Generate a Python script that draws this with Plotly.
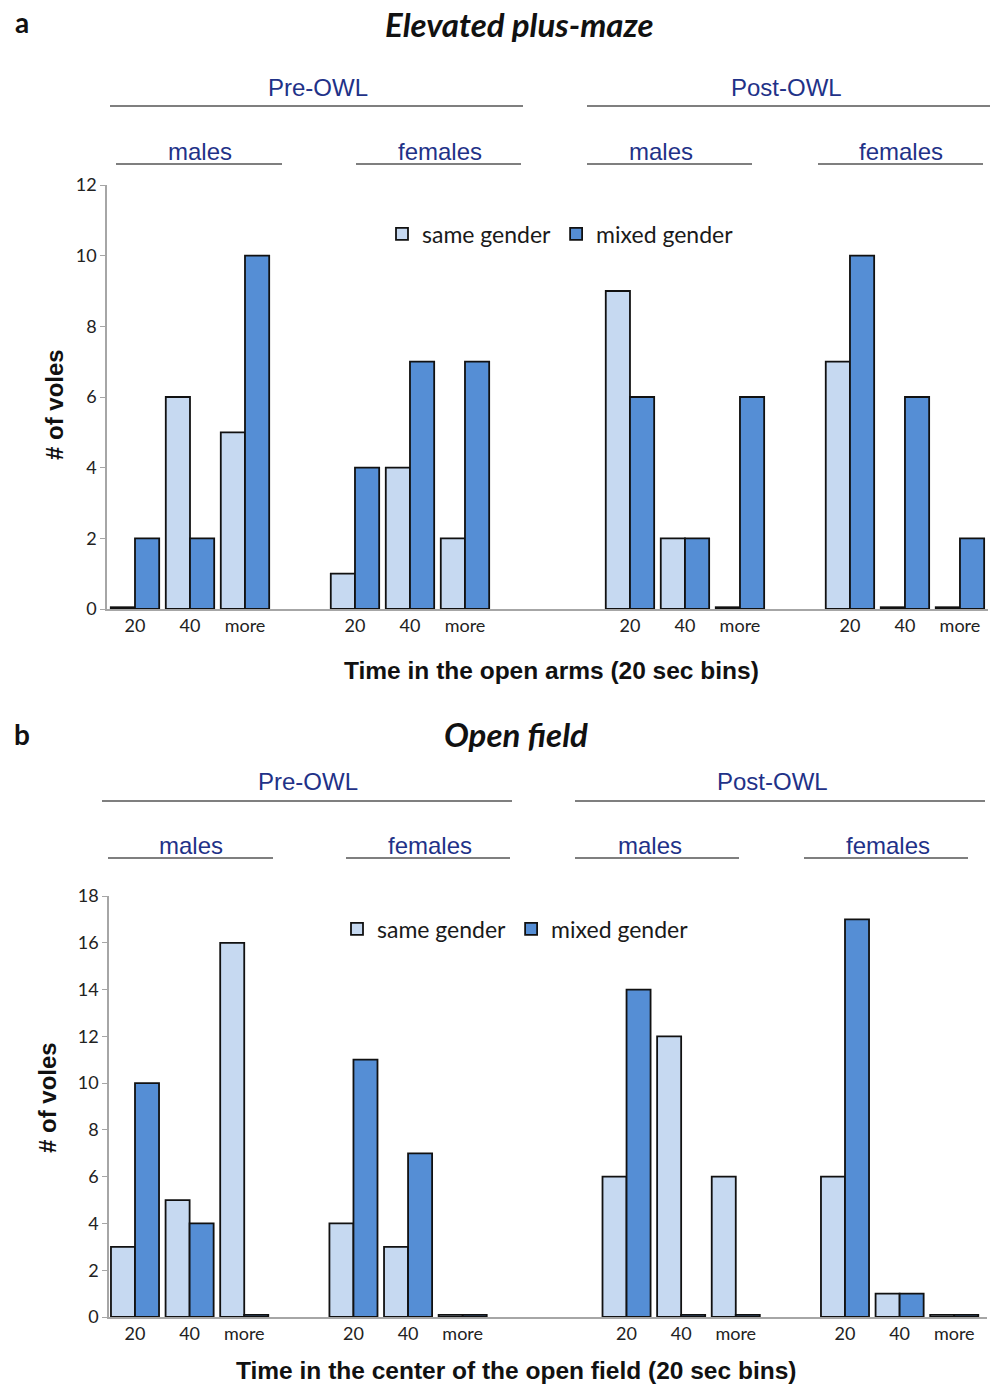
import plotly.graph_objects as go

W, H = 990, 1384

# ---------------- data ----------------
bins = ["20", "40", "more"]
groups = ["Pre-OWL males", "Pre-OWL females", "Post-OWL males", "Post-OWL females"]
series = ["same gender", "mixed gender"]

# Panel a: Elevated plus-maze (per group: 20, 40, more)
epm_same = [[0, 6, 5], [1, 4, 2], [9, 2, 0], [7, 0, 0]]
epm_mixed = [[2, 2, 10], [4, 7, 7], [6, 2, 6], [10, 6, 2]]

# Panel b: Open field
of_same = [[3, 5, 16], [4, 3, 0], [6, 12, 6], [6, 1, 0]]
of_mixed = [[10, 4, 0], [11, 7, 0], [14, 0, 0], [17, 1, 0]]

# ---------------- styling ----------------
light = "#c6d9f1"
dark = "#558ed5"
hdr_col = "#1f3288"
group_offsets = [0, 4, 9, 13]  # slot positions of groups along the axis
ZERO_FLOOR = {"a": 0.05, "b": 0.09}  # so zero bars show as a thin outline, as in the source


def px_x(p):
    return p / W


def px_y(p):
    return 1 - p / H


xpos = [g + i for g in group_offsets for i in range(len(bins))]
xtext = bins * len(group_offsets)

fig = go.Figure()


def add_panel(same, mixed, xa, ya, legend, floor):
    flat_s = [v for grp in same for v in grp]
    flat_m = [v for grp in mixed for v in grp]
    for name, vals, col in ((series[0], flat_s, light), (series[1], flat_m, dark)):
        fig.add_trace(go.Bar(
            x=xpos, y=[v if v > 0 else floor for v in vals],
            customdata=vals, hovertemplate="%{customdata}<extra>" + name + "</extra>",
            name=name, marker=dict(color=col, line=dict(color="#111111", width=1.8)),
            xaxis=xa, yaxis=ya, legend=legend,
        ))


add_panel(epm_same, epm_mixed, "x", "y", "legend", ZERO_FLOOR["a"])
add_panel(of_same, of_mixed, "x2", "y2", "legend2", ZERO_FLOOR["b"])

tickfont = dict(family="Lato, Open Sans, sans-serif", size=18, color="#222222")
axcol = "#a6a6a6"
legfont = dict(family="Lato, sans-serif", size=23, color="#1a1a1a")

fig.update_layout(
    width=W, height=H, margin=dict(l=0, r=0, t=0, b=0, autoexpand=False),
    paper_bgcolor="white", plot_bgcolor="white",
    barmode="group", bargap=0.12, bargroupgap=0,
    xaxis=dict(domain=[px_x(107), px_x(988)], range=[-0.509, 15.51],
               tickvals=xpos, ticktext=xtext, ticks="", showline=True, linecolor=axcol,
               linewidth=1.5, showgrid=False, zeroline=False, tickfont=tickfont,
               anchor="y", automargin=False),
    yaxis=dict(domain=[px_y(609), px_y(185)], range=[0, 12], dtick=2, ticks="outside",
               ticklen=5, tickcolor=axcol, showline=True, linecolor=axcol, linewidth=1.5,
               showgrid=False, zeroline=False, tickfont=tickfont, anchor="x",
               automargin=False),
    xaxis2=dict(domain=[px_x(109), px_x(987)], range=[-0.476, 15.6],
                tickvals=xpos, ticktext=xtext, ticks="", showline=True, linecolor=axcol,
                linewidth=1.5, showgrid=False, zeroline=False, tickfont=tickfont,
                anchor="y2", automargin=False),
    yaxis2=dict(domain=[px_y(1317), px_y(896)], range=[0, 18], dtick=2, ticks="outside",
                ticklen=5, tickcolor=axcol, showline=True, linecolor=axcol, linewidth=1.5,
                showgrid=False, zeroline=False, tickfont=tickfont, anchor="x2",
                automargin=False),
    legend=dict(orientation="h", x=px_x(382), y=px_y(234), xanchor="left", yanchor="middle",
                font=legfont, itemwidth=30, bgcolor="rgba(0,0,0,0)", traceorder="normal"),
    legend2=dict(orientation="h", x=px_x(337), y=px_y(929), xanchor="left", yanchor="middle",
                 font=legfont, itemwidth=30, bgcolor="rgba(0,0,0,0)", traceorder="normal"),
    showlegend=True,
)

ann = []
shapes = []


def text(x, y, s, size, color="#111111", family="Liberation Sans, Arial, sans-serif",
         angle=0, xanchor="center"):
    ann.append(dict(x=px_x(x), y=px_y(y), xref="paper", yref="paper", text=s,
                    showarrow=False, textangle=angle, xanchor=xanchor, yanchor="middle",
                    font=dict(size=size, color=color, family=family)))


def hline(x0, x1, y):
    shapes.append(dict(type="line", xref="paper", yref="paper", x0=px_x(x0), x1=px_x(x1),
                       y0=px_y(y), y1=px_y(y), line=dict(color="#7f7f7f", width=2)))


# panel labels and titles
text(22, 22, "<b>a</b>", 28, family="Lato, sans-serif")
text(519, 24, "<b><i>Elevated plus-maze</i></b>", 33, family="Lato, sans-serif")
text(22, 734, "<b>b</b>", 28, family="Lato, sans-serif")
text(516, 734, "<b><i>Open field</i></b>", 33, family="Lato, sans-serif")

# group headers, panel a
text(318, 87, "Pre-OWL", 24, hdr_col)
hline(110, 523, 106)
text(786, 87, "Post-OWL", 24, hdr_col)
hline(587, 990, 106)
for cx, x0, x1, lab in ((200, 116, 282, "males"), (440, 356, 521, "females"),
                        (661, 587, 752, "males"), (901, 818, 983, "females")):
    text(cx, 151, lab, 24, hdr_col)
    hline(x0, x1, 164)

# group headers, panel b
text(308, 781, "Pre-OWL", 24, hdr_col)
hline(102, 512, 801)
text(772, 781, "Post-OWL", 24, hdr_col)
hline(575, 985, 801)
for cx, x0, x1, lab in ((191, 108, 273, "males"), (430, 346, 510, "females"),
                        (650, 575, 739, "males"), (888, 804, 968, "females")):
    text(cx, 845, lab, 24, hdr_col)
    hline(x0, x1, 858)

# axis titles
text(55, 405, "<b># of voles</b>", 24, angle=-90)
text(551, 670, "<b>Time in the open arms (20 sec bins)</b>", 24.5)
text(47, 1098, "<b># of voles</b>", 24, angle=-90)
text(516, 1370, "<b>Time in the center of the open field (20 sec bins)</b>", 24.5)

fig.update_layout(annotations=ann, shapes=shapes)
fig.write_html(
    "out.html",
    config={"displayModeBar": False},
    post_script="document.body.style.margin='0';document.body.style.overflow='hidden';",
)
